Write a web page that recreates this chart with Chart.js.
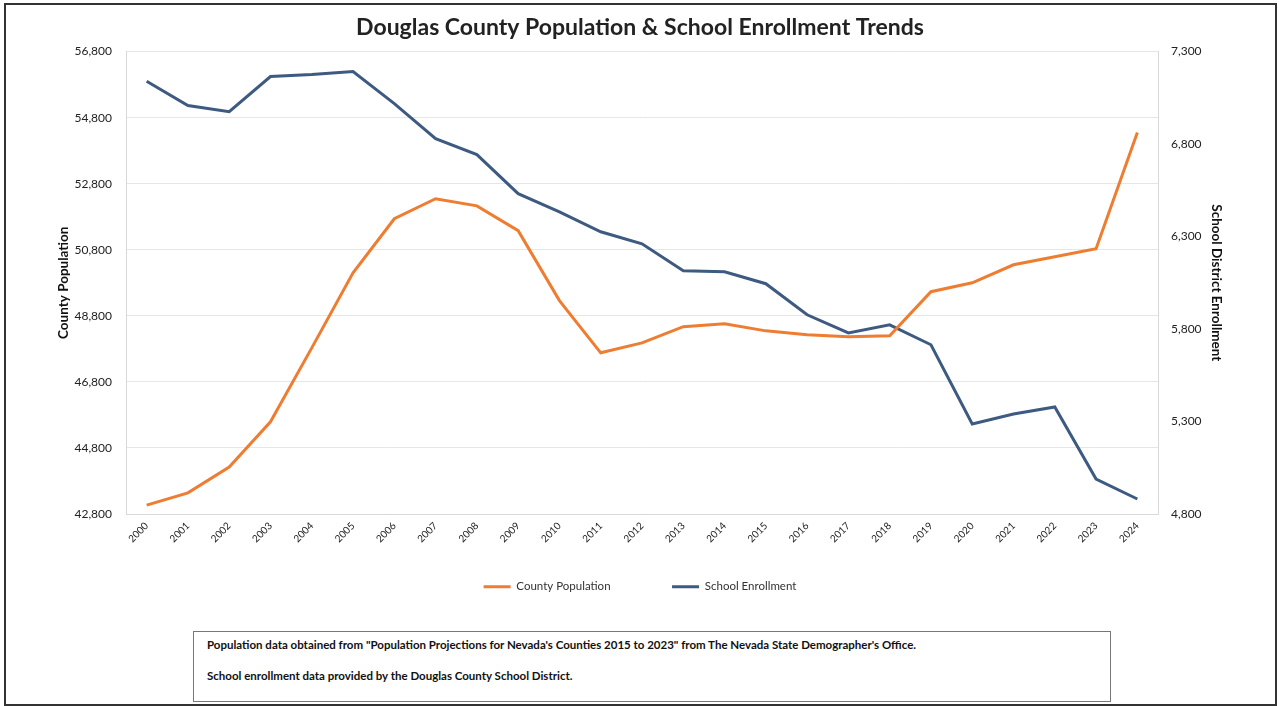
<!DOCTYPE html>
<html>
<head>
<meta charset="utf-8">
<script src="https://cdn.jsdelivr.net/npm/chart.js@4/dist/chart.umd.min.js"></script>
<style>
    html, body { margin: 0; padding: 0; background: #fff; }
    #frame {
        position: absolute; left: 4px; top: 3px; width: 1269px; height: 699px;
        border: 2px solid #333;
    }
    #wrap { position: absolute; left: 0; top: 0; width: 1279px; height: 620px; }
    #note {
        position: absolute; left: 193px; top: 631px; width: 903px; height: 64px;
        border: 1.5px solid #777; padding: 5px 0 0 13px;
        font: bold 11.5px Lato, sans-serif; color: #111; line-height: 15px;
    }
    #note p { margin: 0 0 16px 0; }
</style>
</head>
<body>
<div id="frame"></div>
<div id="wrap"><canvas id="chart"></canvas></div>
<div id="note">
    <p>Population data obtained from "Population Projections for Nevada's Counties 2015 to 2023" from The Nevada State Demographer's Office.</p>
    <p>School enrollment data provided by the Douglas County School District.</p>
</div>
<script>
var years = ['2000', '2001', '2002', '2003', '2004', '2005', '2006', '2007', '2008', '2009',
             '2010', '2011', '2012', '2013', '2014', '2015', '2016', '2017', '2018', '2019',
             '2020', '2021', '2022', '2023', '2024'];

var countyPopulation = [43070, 43440, 44220, 45590, 47830, 50100, 51740, 52345, 52130, 51380,
                        49260, 47680, 47980, 48470, 48560, 48345, 48225, 48165, 48195, 49530,
                        49800, 50345, 50590, 50830, 54350];

var schoolEnrollment = [7140, 7008, 6975, 7165, 7176, 7192, 7019, 6829, 6743, 6532,
                        6434, 6326, 6261, 6115, 6110, 6045, 5877, 5779, 5823, 5715,
                        5287, 5341, 5379, 4989, 4881];

var FONT = 'Lato, "Open Sans", sans-serif';
var ORANGE = '#ee7d31';
var BLUE = '#3d5a80';

function fmt(v) { return v.toLocaleString('en-US'); }

new Chart(document.getElementById('chart'), {
    type: 'line',
    data: {
        labels: years,
        datasets: [
            {
                label: 'County Population',
                data: countyPopulation,
                yAxisID: 'y',
                borderColor: ORANGE,
                backgroundColor: ORANGE,
                borderWidth: 3,
                pointRadius: 0,
                tension: 0,
            },
            {
                label: 'School Enrollment',
                data: schoolEnrollment,
                yAxisID: 'y1',
                borderColor: BLUE,
                backgroundColor: BLUE,
                borderWidth: 3,
                pointRadius: 0,
                tension: 0,
            },
        ],
    },
    options: {
        responsive: true,
        maintainAspectRatio: false,
        animation: false,
        layout: { padding: { left: 52, right: 51, top: 14, bottom: 17.5 } },
        plugins: {
            title: {
                display: true,
                text: 'Douglas County Population & School Enrollment Trends',
                color: '#222',
                font: { family: FONT, size: 23, weight: 'bold' },
                padding: { top: 0, bottom: 10 },
            },
            legend: {
                position: 'bottom',
                labels: {
                    color: '#333',
                    font: { family: FONT, size: 11.5 },
                    boxWidth: 27,
                    boxHeight: 3,
                    padding: 27,
                    generateLabels: function (chart) {
                        var items = Chart.defaults.plugins.legend.labels.generateLabels(chart);
                        items.forEach(function (it, i) {
                            it.lineWidth = 0;
                            it.fillStyle = it.strokeStyle;
                            // wider gap after the first entry, as in the original
                            if (i === 0) it.text += '\u2003\u2003\u2003\u2003';
                        });
                        return items;
                    },
                },
            },
            tooltip: { enabled: false },
        },
        scales: {
            x: {
                offset: true,
                grid: { display: false, drawTicks: false },
                border: { display: true, color: '#d9d9d9' },
                ticks: {
                    color: '#222',
                    font: { family: FONT, size: 10 },
                    minRotation: 45,
                    maxRotation: 45,
                    padding: 6,
                },
                afterFit: function (s) { s.height = 40; },
            },
            y: {
                position: 'left',
                min: 42800,
                max: 56800,
                ticks: {
                    stepSize: 2000,
                    color: '#222',
                    font: { family: FONT, size: 12 },
                    padding: 14,
                    callback: function (v) { return fmt(v); },
                },
                grid: { color: '#e6e6e6', drawTicks: false },
                border: { display: true, color: '#d9d9d9' },
                title: {
                    display: true,
                    text: 'County Population',
                    color: '#111',
                    font: { family: FONT, size: 13.5, weight: 'bold' },
                },
                afterFit: function (s) { s.width = 74; },
            },
            y1: {
                position: 'right',
                min: 4800,
                max: 7300,
                ticks: {
                    stepSize: 500,
                    color: '#222',
                    font: { family: FONT, size: 12 },
                    padding: 13,
                    callback: function (v) { return fmt(v); },
                },
                grid: { display: false, drawTicks: false },
                border: { display: true, color: '#d9d9d9' },
                title: {
                    display: true,
                    text: 'School District Enrollment',
                    color: '#111',
                    font: { family: FONT, size: 13.5, weight: 'bold' },
                },
                afterFit: function (s) { s.width = 70; },
            },
        },
    },
});
</script>
</body>
</html>
